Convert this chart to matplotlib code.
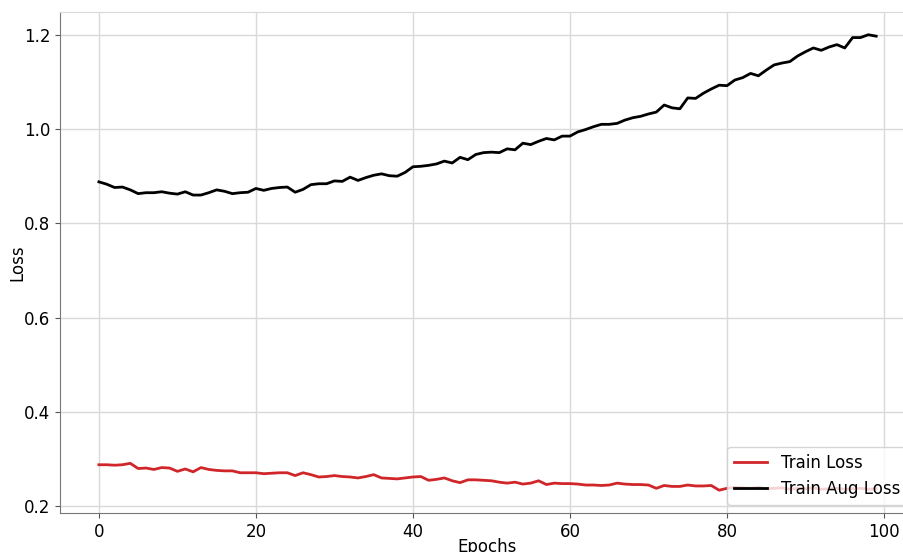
import numpy as np
import matplotlib
matplotlib.use('Agg')
import matplotlib.pyplot as plt

# loss per epoch
epochs = np.arange(100)

train_loss = [
  0.288, 0.288, 0.287, 0.288, 0.291, 0.280, 0.281, 0.278, 0.282, 0.281,
  0.274, 0.279, 0.273, 0.282, 0.278, 0.276, 0.275, 0.275, 0.271, 0.271,
  0.271, 0.269, 0.270, 0.271, 0.271, 0.265, 0.271, 0.267, 0.262, 0.263,
  0.265, 0.263, 0.262, 0.260, 0.263, 0.267, 0.260, 0.259, 0.258, 0.260,
  0.262, 0.263, 0.255, 0.257, 0.260, 0.254, 0.250, 0.256, 0.256, 0.255,
  0.254, 0.251, 0.249, 0.251, 0.247, 0.249, 0.254, 0.246, 0.249, 0.248,
  0.248, 0.247, 0.245, 0.245, 0.244, 0.245, 0.249, 0.247, 0.246, 0.246,
  0.245, 0.238, 0.244, 0.242, 0.242, 0.245, 0.243, 0.243, 0.244, 0.234,
  0.238, 0.240, 0.239, 0.238, 0.240, 0.237, 0.238, 0.239, 0.236, 0.238,
  0.237, 0.239, 0.236, 0.237, 0.238, 0.236, 0.237, 0.238, 0.236, 0.237,
]

train_aug_loss = [
  0.888, 0.883, 0.876, 0.877, 0.871, 0.863, 0.865, 0.865, 0.867, 0.864,
  0.862, 0.867, 0.860, 0.860, 0.865, 0.871, 0.868, 0.863, 0.865, 0.866,
  0.874, 0.870, 0.874, 0.876, 0.877, 0.866, 0.872, 0.882, 0.884, 0.884,
  0.890, 0.889, 0.898, 0.891, 0.897, 0.902, 0.905, 0.901, 0.900, 0.908,
  0.920, 0.921, 0.923, 0.926, 0.932, 0.928, 0.940, 0.935, 0.946, 0.950,
  0.951, 0.950, 0.958, 0.956, 0.970, 0.967, 0.974, 0.980, 0.977, 0.985,
  0.985, 0.994, 0.999, 1.005, 1.010, 1.010, 1.012, 1.019, 1.024, 1.027,
  1.032, 1.036, 1.051, 1.045, 1.043, 1.066, 1.065, 1.076, 1.085, 1.093,
  1.092, 1.104, 1.109, 1.118, 1.113, 1.125, 1.136, 1.140, 1.143, 1.155,
  1.164, 1.172, 1.167, 1.174, 1.179, 1.172, 1.194, 1.194, 1.200, 1.197,
]

fig = plt.figure(figsize=(9.04, 5.52), dpi=100)
# the reference is a crop: the right side of the axes runs past the edge
ax = fig.add_axes([0.0664, 0.0707, 0.9458, 0.9076])

ax.plot(epochs, train_loss, color='#d0262a', linewidth=2, label='Train Loss')
ax.plot(epochs, train_aug_loss, color='black', linewidth=2, label='Train Aug Loss')

ax.set_xticks([0, 20, 40, 60, 80, 100])
ax.set_yticks([0.2, 0.4, 0.6, 0.8, 1.0, 1.2])
ax.tick_params(labelsize=12, color='#555555')

ax.set_xlabel('Epochs', fontsize=12, labelpad=-2)
ax.set_ylabel('Loss', fontsize=12, labelpad=-2)

ax.grid(True, color='#d9d9d9', linewidth=1)
ax.set_axisbelow(True)
ax.spines['top'].set_color('#d9d9d9')
ax.spines['left'].set_color('#777777')
ax.spines['bottom'].set_color('#777777')

ax.legend(loc='lower right', fontsize=12)

fig.savefig('out.png', dpi=100)
